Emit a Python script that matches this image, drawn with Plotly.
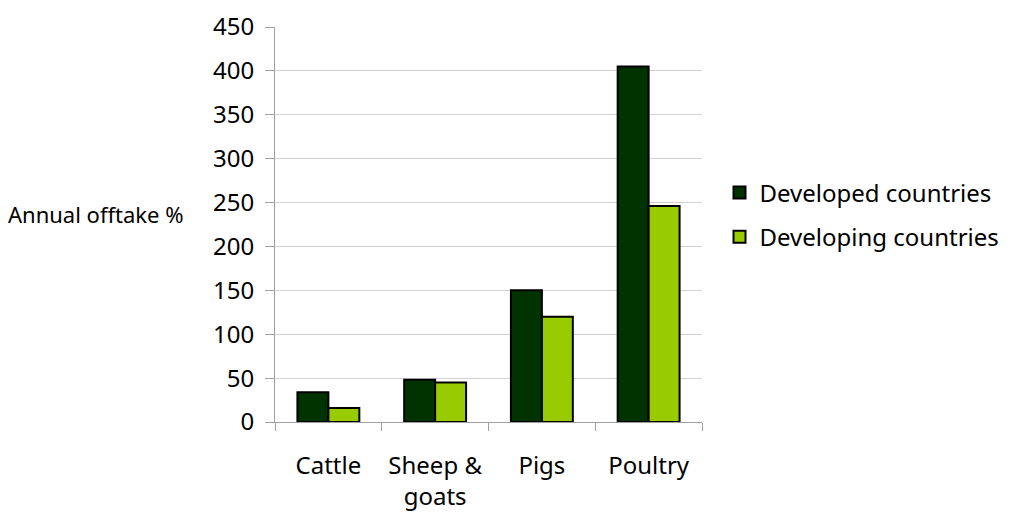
import plotly.graph_objects as go

categories = ["Cattle", "Sheep &<br>goats", "Pigs", "Poultry"]
developed = [34, 48, 150, 405]
developing = [16, 45, 120, 246]
series_names = ["Developed countries", "Developing countries"]
colors = ["#003300", "#99CC00"]
y_ticks = [0, 50, 100, 150, 200, 250, 300, 350, 400, 450]

FONT = "Noto Sans"
FS = 24

fig = go.Figure()
for i, (name, vals) in enumerate(zip(series_names, [developed, developing])):
    fig.add_trace(go.Bar(
        x=categories, y=vals, name=name,
        marker=dict(color=colors[i], line=dict(color="#000000", width=2)),
        legendgroup=name,
    ))

fig.update_layout(
    width=1010, height=512,
    paper_bgcolor="white", plot_bgcolor="white",
    margin=dict(l=267, r=316, t=19, b=98, autoexpand=False),
    barmode="group", bargap=0.42, bargroupgap=0,
    font=dict(family=FONT, size=FS, color="#000000"),
    legend=dict(
        x=1.041, xanchor="left", y=0.524, yanchor="middle",
        font=dict(family=FONT, size=FS, color="#000000"),
        traceorder="grouped", tracegroupgap=10,
        bgcolor="rgba(0,0,0,0)",
    ),
    showlegend=True,
)
fig.update_xaxes(
    showline=True, linecolor="#a0a0a0", linewidth=1,
    ticks="outside", tickson="boundaries", ticklen=8, tickcolor="#a0a0a0",
    tickfont=dict(family=FONT, size=FS), showgrid=False,
    ticklabelstandoff=22, automargin=False,
)
fig.update_yaxes(
    range=[0, 450], tickvals=y_ticks,
    showline=True, linecolor="#a0a0a0", linewidth=1,
    ticks="outside", ticklen=9, tickcolor="#a0a0a0",
    showgrid=True, gridcolor="#d0d0d0", gridwidth=1,
    tickfont=dict(family=FONT, size=FS), zeroline=False,
    ticklabelstandoff=6, automargin=False,
)
fig.add_annotation(
    text="Annual offtake %", xref="paper", yref="paper",
    x=-0.211, y=0.527, xanchor="right", yanchor="middle", showarrow=False,
    font=dict(family=FONT, size=22, color="#000000"),
)
fig.write_html("out.html")
